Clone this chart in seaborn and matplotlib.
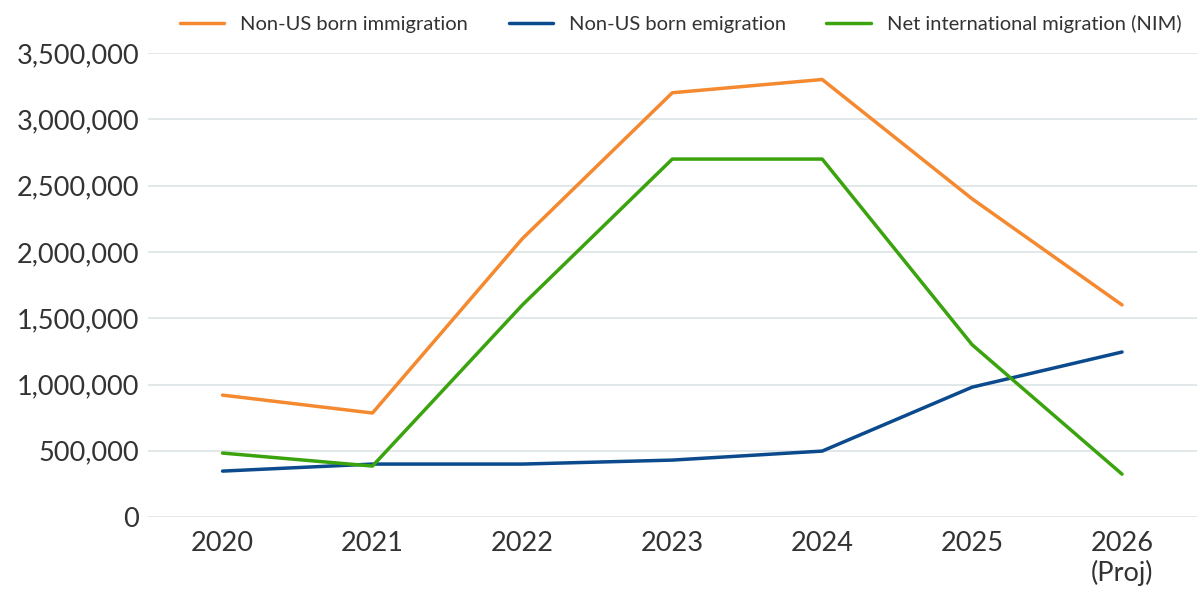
import matplotlib
matplotlib.use("Agg")
import matplotlib.pyplot as plt
import seaborn as sns
import pandas as pd
from matplotlib.ticker import FuncFormatter

years = ["2020", "2021", "2022", "2023", "2024", "2025", "2026\n(Proj)"]
immigration = [920000, 785000, 2100000, 3200000, 3300000, 2400000, 1600000]
emigration = [347000, 400000, 400000, 430000, 498000, 980000, 1245000]
nim = [483000, 385000, 1600000, 2700000, 2700000, 1300000, 324000]

names = ["Non-US born immigration", "Non-US born emigration", "Net international migration (NIM)"]
colors = ["#F4892F", "#0B4A8C", "#3AA30E"]

df = pd.DataFrame({
    "x": list(range(len(years))) * 3,
    "value": immigration + emigration + nim,
    "series": [names[0]] * 7 + [names[1]] * 7 + [names[2]] * 7,
})

sns.set_theme(style="white")
plt.rcParams["font.family"] = ["Lato", "DejaVu Sans"]

fig = plt.figure(figsize=(12, 6.02), dpi=100)
ax = fig.add_axes([0.123, 0.141, 0.8745, 0.771])
sns.lineplot(data=df, x="x", y="value", hue="series", palette=colors, linewidth=2.5, ax=ax)

ax.set_xlim(-0.5, 6.5)
ax.set_ylim(0, 3500000)
ax.set_yticks(range(0, 3500001, 500000))
ax.yaxis.set_major_formatter(FuncFormatter(lambda v, p: f"{int(v):,}"))
ax.set_xticks(range(len(years)))
ax.set_xticklabels(years)
ax.tick_params(axis="both", labelsize=19.5, colors="#333333", length=0)
ax.tick_params(axis="x", pad=10)
ax.tick_params(axis="y", pad=6)
ax.grid(axis="y", color="#DDE3E6", linewidth=1.2)
ax.set_axisbelow(True)
for s in ax.spines.values():
    s.set_visible(False)
ax.set_xlabel("")
ax.set_ylabel("")
leg = ax.legend(loc="lower center", bbox_to_anchor=(0.508, 1.0), ncol=3, frameon=False,
                fontsize=14.5, handlelength=2.2, columnspacing=2.0, borderaxespad=0.6)
for t in leg.get_texts():
    t.set_color("#333333")
fig.savefig("out.png", dpi=100)
